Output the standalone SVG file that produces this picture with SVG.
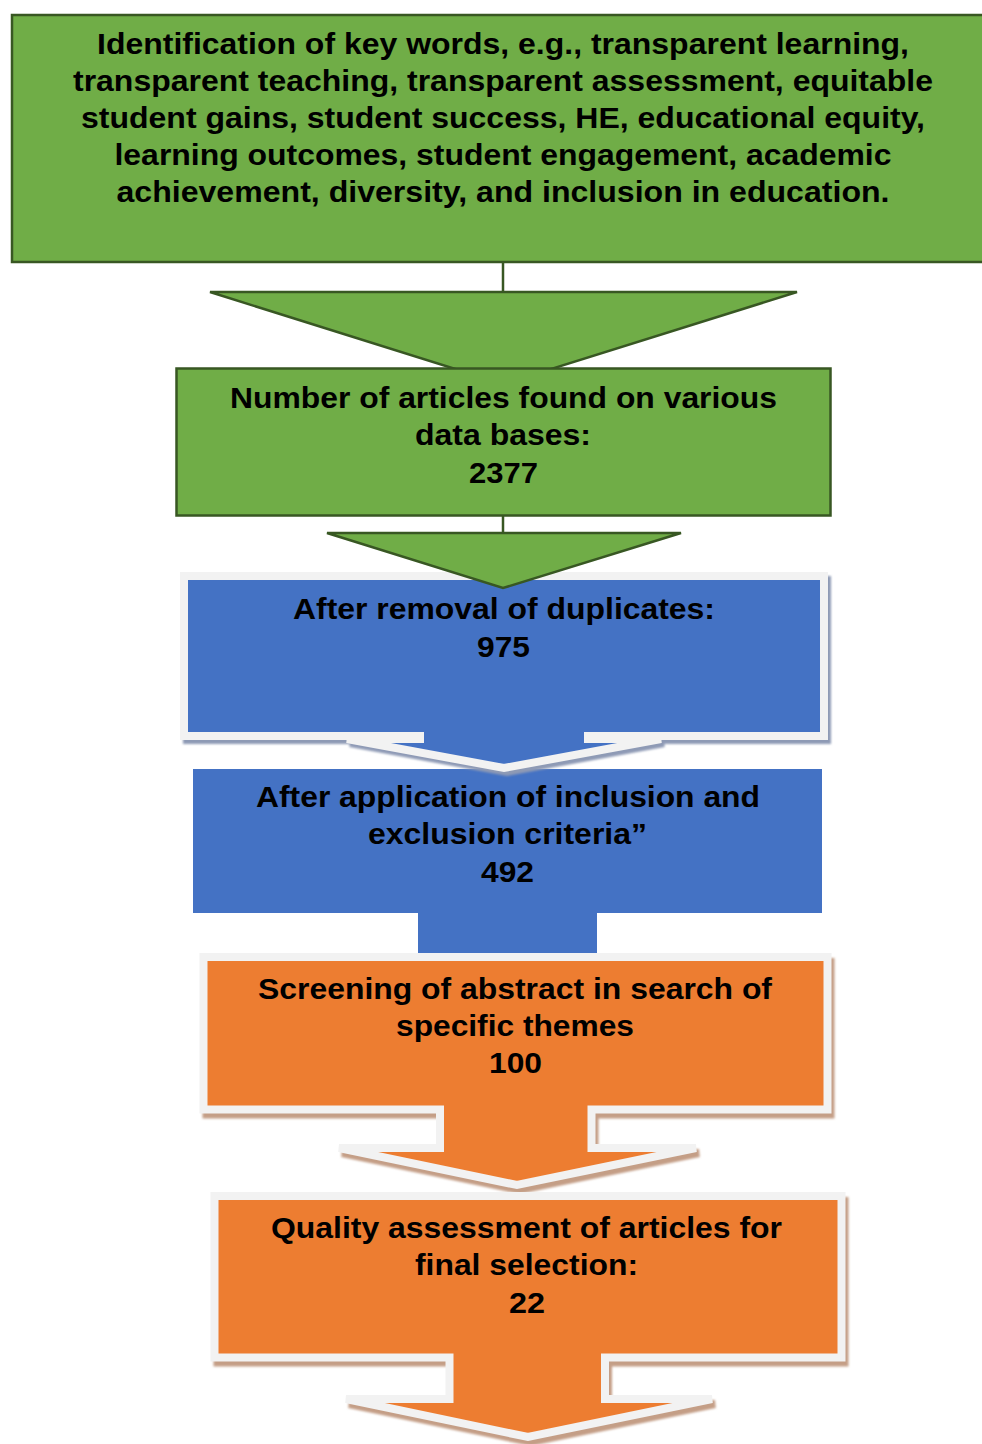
<svg xmlns="http://www.w3.org/2000/svg" width="982" height="1444" viewBox="0 0 982 1444">
<style>
.t{font-family:"Liberation Sans",Arial,sans-serif;font-weight:bold;font-size:30px;fill:#000;text-anchor:middle}
.g{fill:#70AD47;stroke:#385723;stroke-width:2.5}
.gl{stroke:#385723;stroke-width:2.5;fill:none}
.bf{fill:#4472C4;stroke:#F2F2F2;stroke-width:8;stroke-linejoin:miter}
.of{fill:#ED7D31;stroke:#F2F2F2;stroke-width:8;stroke-linejoin:miter}
.bs{fill:#8E9AB5;stroke:#8E9AB5;stroke-width:8}
.os{fill:#C49E86;stroke:#C49E86;stroke-width:8}
</style>
<defs>
<filter id="blur" x="-5%" y="-5%" width="110%" height="110%"><feGaussianBlur stdDeviation="0.8"/></filter>
</defs>
<rect width="982" height="1444" fill="#fff"/>

<g id="connectors">
<line class="gl" x1="503" y1="262" x2="503" y2="292"/>
<line class="gl" x1="503" y1="515" x2="503" y2="533"/>
</g>

<g id="node-keywords">
<rect class="g" x="12" y="15" width="980" height="247"/>
<text class="t" x="503" y="54" textLength="812" lengthAdjust="spacingAndGlyphs">Identification of key words, e.g., transparent learning,</text>
<text class="t" x="503" y="91" textLength="860" lengthAdjust="spacingAndGlyphs">transparent teaching, transparent assessment, equitable</text>
<text class="t" x="503" y="128" textLength="844" lengthAdjust="spacingAndGlyphs">student gains, student success, HE, educational equity,</text>
<text class="t" x="503" y="165" textLength="777" lengthAdjust="spacingAndGlyphs">learning outcomes, student engagement, academic</text>
<text class="t" x="503" y="202" textLength="773" lengthAdjust="spacingAndGlyphs">achievement, diversity, and inclusion in education.</text>
</g>

<g id="arrow-1">
<polygon class="g" points="210,292 797,292 503,384"/>
</g>

<g id="node-found">
<rect class="g" x="176.5" y="368.5" width="654" height="147"/>
<text class="t" x="503.5" y="408" textLength="547" lengthAdjust="spacingAndGlyphs">Number of articles found on various</text>
<text class="t" x="503" y="445" textLength="176" lengthAdjust="spacingAndGlyphs">data bases:</text>
<text class="t" x="503.5" y="483" textLength="69" lengthAdjust="spacingAndGlyphs">2377</text>
</g>

<g id="node-criteria">
<path d="M193,769 H822 V913 H597 V960 H418 V913 H193 Z" fill="#4472C4"/>
<text class="t" x="508" y="807" textLength="504" lengthAdjust="spacingAndGlyphs">After application of inclusion and</text>
<text class="t" x="507.5" y="844" textLength="279" lengthAdjust="spacingAndGlyphs">exclusion criteria”</text>
<text class="t" x="507.5" y="882" textLength="53" lengthAdjust="spacingAndGlyphs">492</text>
</g>

<g id="node-duplicates">
<path class="bs" filter="url(#blur)" transform="translate(3,4)" d="M184,576 H824 V736 H588 V739 H661 L504,768 L347,739 H420 V736 H184 Z"/>
<path class="bf" d="M184,576 H824 V736 H588 V739 H661 L504,768 L347,739 H420 V736 H184 Z"/>
<text class="t" x="504" y="619" textLength="422" lengthAdjust="spacingAndGlyphs">After removal of duplicates:</text>
<text class="t" x="503.5" y="657" textLength="53" lengthAdjust="spacingAndGlyphs">975</text>
</g>

<g id="arrow-2">
<polygon class="g" points="327,533 681,533 503,588"/>
</g>

<g id="node-screening">
<path class="os" filter="url(#blur)" transform="translate(3,5)" d="M203.5,957 H827.5 V1109.5 H591.5 V1148 H696 L517,1185 L339,1148 H440 V1109.5 H203.5 Z"/>
<path class="of" d="M203.5,957 H827.5 V1109.5 H591.5 V1148 H696 L517,1185 L339,1148 H440 V1109.5 H203.5 Z"/>
<text class="t" x="515" y="999" textLength="514" lengthAdjust="spacingAndGlyphs">Screening of abstract in search of</text>
<text class="t" x="515" y="1036" textLength="238" lengthAdjust="spacingAndGlyphs">specific themes</text>
<text class="t" x="515.5" y="1073" textLength="53" lengthAdjust="spacingAndGlyphs">100</text>
</g>

<g id="node-quality">
<path class="os" filter="url(#blur)" transform="translate(3,5)" d="M214.5,1196 H841.5 V1357.5 H605 V1399 H712 L528,1437 L346,1399 H449.5 V1357.5 H214.5 Z"/>
<path class="of" d="M214.5,1196 H841.5 V1357.5 H605 V1399 H712 L528,1437 L346,1399 H449.5 V1357.5 H214.5 Z"/>
<text class="t" x="526.5" y="1238" textLength="511" lengthAdjust="spacingAndGlyphs">Quality assessment of articles for</text>
<text class="t" x="526.5" y="1275" textLength="223" lengthAdjust="spacingAndGlyphs">final selection:</text>
<text class="t" x="527" y="1313" textLength="36" lengthAdjust="spacingAndGlyphs">22</text>
</g>
</svg>
